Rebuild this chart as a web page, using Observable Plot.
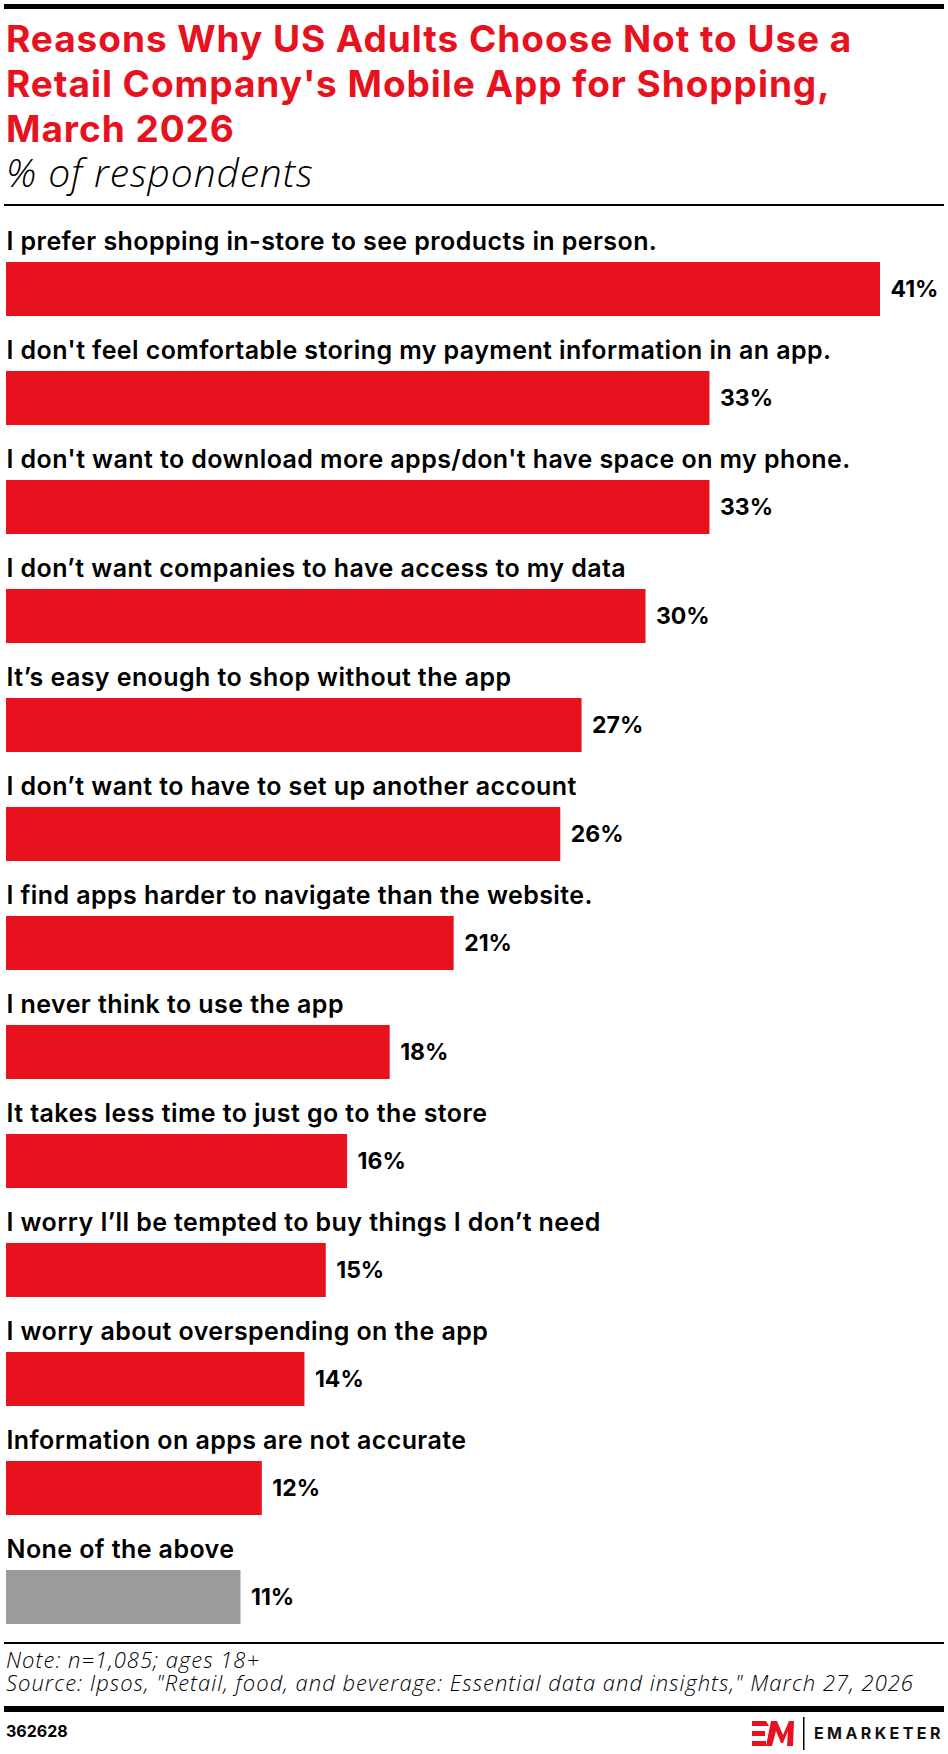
<!DOCTYPE html>
<html>
<head>
<meta charset="utf-8">
<script src="https://cdn.jsdelivr.net/npm/d3@7"></script>
<script src="https://cdn.jsdelivr.net/npm/@observablehq/plot@0.6"></script>
<style>
  html, body { margin: 0; padding: 0; background: #fff; }
  #wrap { position: relative; width: 948px; height: 1754px; overflow: hidden; background: #fff; }
  #wrap > svg { position: absolute; left: 0; }
</style>
</head>
<body>
<div id="wrap"></div>
<script>
const titleLines = [
  "Reasons Why US Adults Choose Not to Use a",
  "Retail Company's Mobile App for Shopping,",
  "March 2026"
];
const subtitle = "% of respondents";
const categories = [
  "I prefer shopping in-store to see products in person.",
  "I don't feel comfortable storing my payment information in an app.",
  "I don't want to download more apps/don't have space on my phone.",
  "I don\u2019t want companies to have access to my data",
  "It\u2019s easy enough to shop without the app",
  "I don\u2019t want to have to set up another account",
  "I find apps harder to navigate than the website.",
  "I never think to use the app",
  "It takes less time to just go to the store",
  "I worry I\u2019ll be tempted to buy things I don\u2019t need",
  "I worry about overspending on the app",
  "Information on apps are not accurate",
  "None of the above"
];
const values = [41, 33, 33, 30, 27, 26, 21, 18, 16, 15, 14, 12, 11];
const noteLines = [
  "Note: n=1,085; ages 18+",
  "Source: Ipsos, \"Retail, food, and beverage: Essential data and insights,\" March 27, 2026"
];
const chartId = "362628";

const RED = "#e8111e";
const GRAY = "#9b9b9b";
const FONT = "Inter, Lato, sans-serif";
const ITALIC_FONT = "'Open Sans', Lato, sans-serif";

const wrap = d3.select("#wrap");

// Header
const head = wrap.append("svg").attr("width", 948).attr("height", 210).style("top", "0px");
head.append("rect").attr("x", 4).attr("y", 4).attr("width", 940).attr("height", 5).attr("fill", "#000");
titleLines.forEach((t, i) => {
  head.append("text").attr("x", 6).attr("y", 52 + i * 45)
    .attr("fill", RED).attr("font-family", FONT).attr("font-weight", 700)
    .attr("font-size", 37).attr("letter-spacing", 0.95).text(t);
});
head.append("text").attr("x", 6).attr("y", 187)
  .attr("fill", "#000").attr("font-family", ITALIC_FONT).attr("font-style", "italic").attr("font-weight", 300)
  .attr("font-size", 39).attr("letter-spacing", 0.9).text(subtitle);
head.append("rect").attr("x", 4).attr("y", 204).attr("width", 940).attr("height", 2).attr("fill", "#000");

// Chart
const data = categories.map((c, i) => ({category: c, value: values[i], fill: c === "None of the above" ? GRAY : RED}));
const chart = Plot.plot({
  width: 948,
  height: 1430,
  margin: 0,
  style: {fontFamily: FONT, background: "transparent"},
  x: {domain: [0, 41], range: [6, 880], axis: null},
  y: {domain: categories, range: [52, 1414], paddingInner: 0.5046, paddingOuter: 0, axis: null},
  color: {type: "identity"},
  marks: [
    Plot.barX(data, {x: "value", y: "category", fill: "fill"}),
    Plot.text(data, {x: 0, y: "category", text: "category", textAnchor: "start", dy: -48,
      fontSize: 25, fontWeight: 600, fill: "#000", fontFamily: FONT}),
    Plot.text(data, {x: "value", y: "category", text: d => d.value + "%", textAnchor: "start", dx: 10,
      fontSize: 23, fontWeight: 700, fill: "#000", fontFamily: FONT})
  ]
});
const textGroups = d3.select(chart).selectAll("g[aria-label='text']");
d3.select(textGroups.nodes()[0]).attr("letter-spacing", 0.42);
d3.select(chart).style("position", "absolute").style("top", "210px").style("left", "0px");
wrap.node().appendChild(chart);

// Footer
const foot = wrap.append("svg").attr("width", 948).attr("height", 114).style("top", "1640px");
foot.append("rect").attr("x", 4).attr("y", 2).attr("width", 940).attr("height", 2).attr("fill", "#000");
noteLines.forEach((t, i) => {
  foot.append("text").attr("x", 6).attr("y", 28 + i * 23)
    .attr("fill", "#000").attr("font-family", ITALIC_FONT).attr("font-style", "italic").attr("font-weight", 300)
    .attr("font-size", 22).attr("letter-spacing", 1.0).text(t);
});
foot.append("rect").attr("x", 4).attr("y", 66).attr("width", 940).attr("height", 6).attr("fill", "#000");
foot.append("text").attr("x", 6).attr("y", 97).attr("fill", "#000").attr("font-family", FONT)
  .attr("font-weight", 700).attr("font-size", 16).text(chartId);
// logo
const lg = foot.append("g").attr("transform", "translate(752,81)");
lg.append("path").attr("fill", RED).attr("d",
  "M0,0 H14 L17,5 H0 Z M0,10 H13 V15 H0 Z M0,20 H14 V25 H0 Z " +
  "M14,25 L19,0 H25 L31,14 L37,0 H42 L41,25 H35 L36,10 L31,22 H29 L24,10 L20,25 Z");
foot.append("rect").attr("x", 803).attr("y", 77).attr("width", 1.5).attr("height", 33).attr("fill", "#000");
foot.append("text").attr("x", 814).attr("y", 99).attr("fill", "#111").attr("font-family", FONT)
  .attr("font-weight", 700).attr("font-size", 16).attr("letter-spacing", 3.4).text("EMARKETER");
</script>
</body>
</html>
